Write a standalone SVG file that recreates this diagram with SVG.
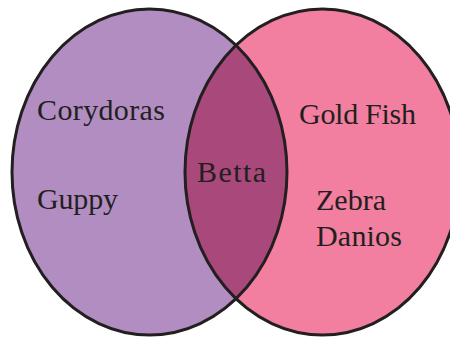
<svg xmlns="http://www.w3.org/2000/svg" width="450" height="337" viewBox="0 0 450 337">
<style>
.lbl{font-family:"Liberation Serif","Times New Roman",serif;font-size:30px;fill:#231f20}
.edge{fill:none;stroke:#231f20;stroke-width:3}
</style>
<defs>
<clipPath id="clipLeft"><ellipse cx="149.5" cy="172" rx="137.5" ry="163"/></clipPath>
</defs>
<rect width="450" height="337" fill="#ffffff"/>
<g id="set-left">
<ellipse cx="149.5" cy="172" rx="137.5" ry="163" fill="#b28dc1"/>
</g>
<g id="set-right">
<ellipse cx="322.5" cy="172" rx="137.5" ry="163" fill="#f27fa0"/>
</g>
<g id="intersection">
<ellipse cx="322.5" cy="172" rx="137.5" ry="163" fill="#a9487a" clip-path="url(#clipLeft)"/>
</g>
<g id="outlines">
<ellipse class="edge" cx="149.5" cy="172" rx="137.5" ry="163"/>
<ellipse class="edge" cx="322.5" cy="172" rx="137.5" ry="163"/>
</g>
<g id="labels">
<text class="lbl" x="37" y="120" textLength="128">Corydoras</text>
<text class="lbl" x="37" y="209" textLength="81">Guppy</text>
<text class="lbl" x="197" y="182" textLength="69">Betta</text>
<text class="lbl" x="299" y="124" textLength="117">Gold Fish</text>
<text class="lbl" x="316" y="210" textLength="70">Zebra</text>
<text class="lbl" x="316" y="246" textLength="86">Danios</text>
</g>
</svg>
